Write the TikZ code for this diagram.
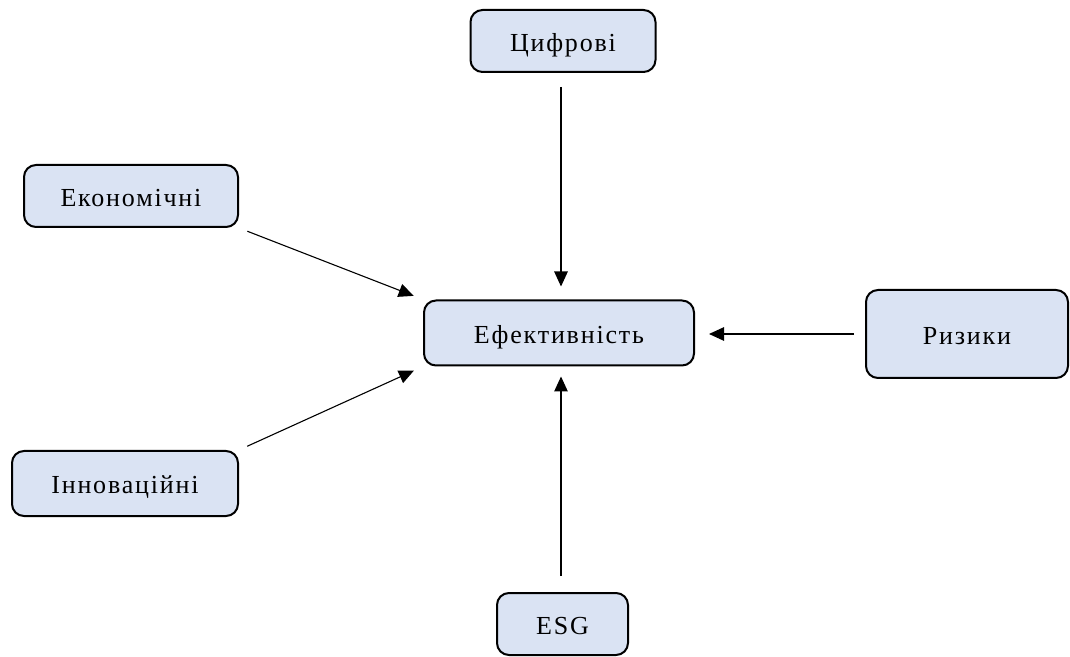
\documentclass[tikz,border=0pt]{standalone}
\usepackage{fontspec}
\setmainfont{Liberation Serif}[LetterSpace=7]
\usetikzlibrary{arrows.meta}
\definecolor{boxfill}{HTML}{DAE3F3}
\tikzset{
  factor/.style={draw=black, line width=2pt, fill=boxfill, rounded corners=12pt,
    inner sep=0pt, text height=21pt, text depth=0.8pt,
    font=\fontsize{26}{31}\selectfont},
  link/.style={line width=1.1pt, -{Triangle[length=15pt,width=13.5pt]}}
}
\begin{document}
\begin{tikzpicture}[x=1pt,y=1pt]
  \useasboundingbox (0,0) rectangle (1070,656);
  % central node and the five factors around it
  \node[factor, minimum width=270pt, minimum height=65pt] (eff) at (559,323) {Ефективність};
  \node[factor, minimum width=185pt, minimum height=62pt] (cyf) at (563,615) {Цифрові};
  \node[factor, minimum width=214pt, minimum height=62pt] (eco) at (131,460) {Економічні};
  \node[factor, minimum width=226pt, minimum height=65pt] (inn) at (125,172.5) {Інноваційні};
  \node[factor, minimum width=202pt, minimum height=88pt] (riz) at (967,322) {Ризики};
  \node[factor, minimum width=131pt, minimum height=62pt] (esg) at (562.5,32) {ESG};
  % influences pointing at the centre
  \draw[link, shorten <=14pt, shorten >=13pt] ([xshift=-2pt]cyf.south) -- ([xshift=-2pt]cyf.south |- eff.north);
  \draw[link, shorten <=9pt, shorten >=10pt] (eco.south east) -- (eff.north west);
  \draw[link, shorten <=9pt, shorten >=10pt] (inn.north east) -- (eff.south west);
  \draw[link, shorten <=11pt, shorten >=14pt] (riz.west) -- (riz.west -| eff.east);
  \draw[link, shorten <=16pt, shorten >=10pt] ([xshift=-1.5pt]esg.north) -- ([xshift=-1.5pt]esg.north |- eff.south);
\end{tikzpicture}
\end{document}
